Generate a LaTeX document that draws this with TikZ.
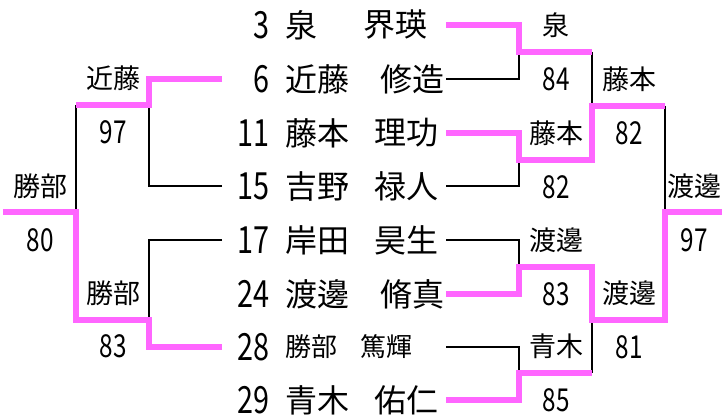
\documentclass[tikz,border=0pt]{standalone}
\usepackage{fontspec}
\setmainfont{Noto Sans CJK JP}
\usepackage{tikz}
\newcommand{\cifra}[1]{\scalebox{0.9}[1.17]{#1}}

\begin{document}
\begin{tikzpicture}[x=1pt, y=-1pt]
%====Definizione colori===============================================================
	\definecolor{rosa}{RGB}{255,102,255}
%====Definizione stili===============================================================
	\tikzstyle{nome}=[inner sep=0pt, font=\fontsize{32}{32}\selectfont]
	\tikzstyle{etich}=[inner sep=0pt, font=\fontsize{27}{27}\selectfont]
	\tikzstyle{vinto}=[draw=rosa, line width=5.5pt]
	\tikzstyle{perso}=[draw=black, line width=2pt]
	\useasboundingbox (0,0) rectangle (722,417);
%====Giocatori e attacchi delle linee===============================================================
	\foreach \n/\cog/\nom/\gx/\fs/\y in {3/泉/界瑛/363/32/25, 6/近藤/修造/380/32/79, 11/藤本/理功/374/32/133, 15/吉野/禄人/374/32/186, 17/岸田/昊生/374/32/240, 24/渡邊/脩真/380/32/294, 28/勝部/篤輝/360/26/347, 29/青木/佑仁/374/32/400}
	{
		\node[nome, anchor=east] 	(num\n) at (270,\y) {\cifra{\n}};
		\node[nome, font=\fontsize{\fs}{\fs}\selectfont, anchor=west] 	(cog\n) at (285,\y) {\cog};
		\node[nome, font=\fontsize{\fs}{\fs}\selectfont, anchor=west] 	(nom\n) at (\gx,\y) {\nom};
		\coordinate (dx\n) at (446,\y);
		\coordinate (sx\n) at (222,\y);
	}
%====Incroci del tabellone===============================================================
	\coordinate (a1) at (519,52);
	\coordinate (a2) at (519,160);
	\coordinate (a3) at (519,267);
	\coordinate (a4) at (519,373);
	\coordinate (b1) at (592,106);
	\coordinate (b2) at (592,320);
	\coordinate (f1) at (665,212);
	\coordinate (fr) at (722,212);
	\coordinate (l1) at (149,105);
	\coordinate (l2) at (149,320);
	\coordinate (lf) at (76,212);
	\coordinate (fl) at (3,212);
%====Linee dei perdenti===============================================================
	\draw[perso] (dx6) -| (a1);
	\draw[perso] (dx15) -| (a2);
	\draw[perso] (dx17) -| (a3);
	\draw[perso] (dx28) -| (a4);
	\draw[perso] (a1 -| b1) -- (b1);
	\draw[perso] (a4 -| b2) -- (b2);
	\draw[perso] (b1 -| f1) -- (f1);
	\draw[perso] (sx15) -| (l1);
	\draw[perso] (sx17) -| (l2);
	\draw[perso] (l1 -| lf) -- (lf);
%====Linee dei vincitori===============================================================
	\draw[vinto] (dx3) -| (a1) -- (a1 -| b1);
	\draw[vinto] (dx11) -| (a2) -| (b1) -- (b1 -| f1);
	\draw[vinto] (dx24) -| (a3) -| (b2) -| (f1) -- (fr);
	\draw[vinto] (dx29) -| (a4) -- (a4 -| b2);
	\draw[vinto] (sx6) -| (l1) -- (l1 -| lf);
	\draw[vinto] (sx28) -| (l2) -| (lf) -- (fl);
%====Vincitori e punteggi===============================================================
	\node[etich] (vA1) at (556,25)  {泉};
	\node[etich] (pA1) at (556,79)  {\cifra{84}};
	\node[etich] (vA2) at (556,133) {藤本};
	\node[etich] (pA2) at (556,187) {\cifra{82}};
	\node[etich] (vA3) at (556,240) {渡邊};
	\node[etich] (pA3) at (556,294) {\cifra{83}};
	\node[etich] (vA4) at (556,346) {青木};
	\node[etich] (pA4) at (556,400) {\cifra{85}};
	\node[etich] (vB1) at (629,79)  {藤本};
	\node[etich] (pB1) at (629,133) {\cifra{82}};
	\node[etich] (vB2) at (629,293) {渡邊};
	\node[etich] (pB2) at (629,347) {\cifra{81}};
	\node[etich] (vF)  at (694,186) {渡邊};
	\node[etich] (pF)  at (694,240) {\cifra{97}};
	\node[etich] (vL1) at (113,78)  {近藤};
	\node[etich] (pL1) at (113,132) {\cifra{97}};
	\node[etich] (vL2) at (113,293) {勝部};
	\node[etich] (pL2) at (113,346) {\cifra{83}};
	\node[etich] (vLF) at (40,186)  {勝部};
	\node[etich] (pLF) at (40,240)  {\cifra{80}};
\end{tikzpicture}
\end{document}
